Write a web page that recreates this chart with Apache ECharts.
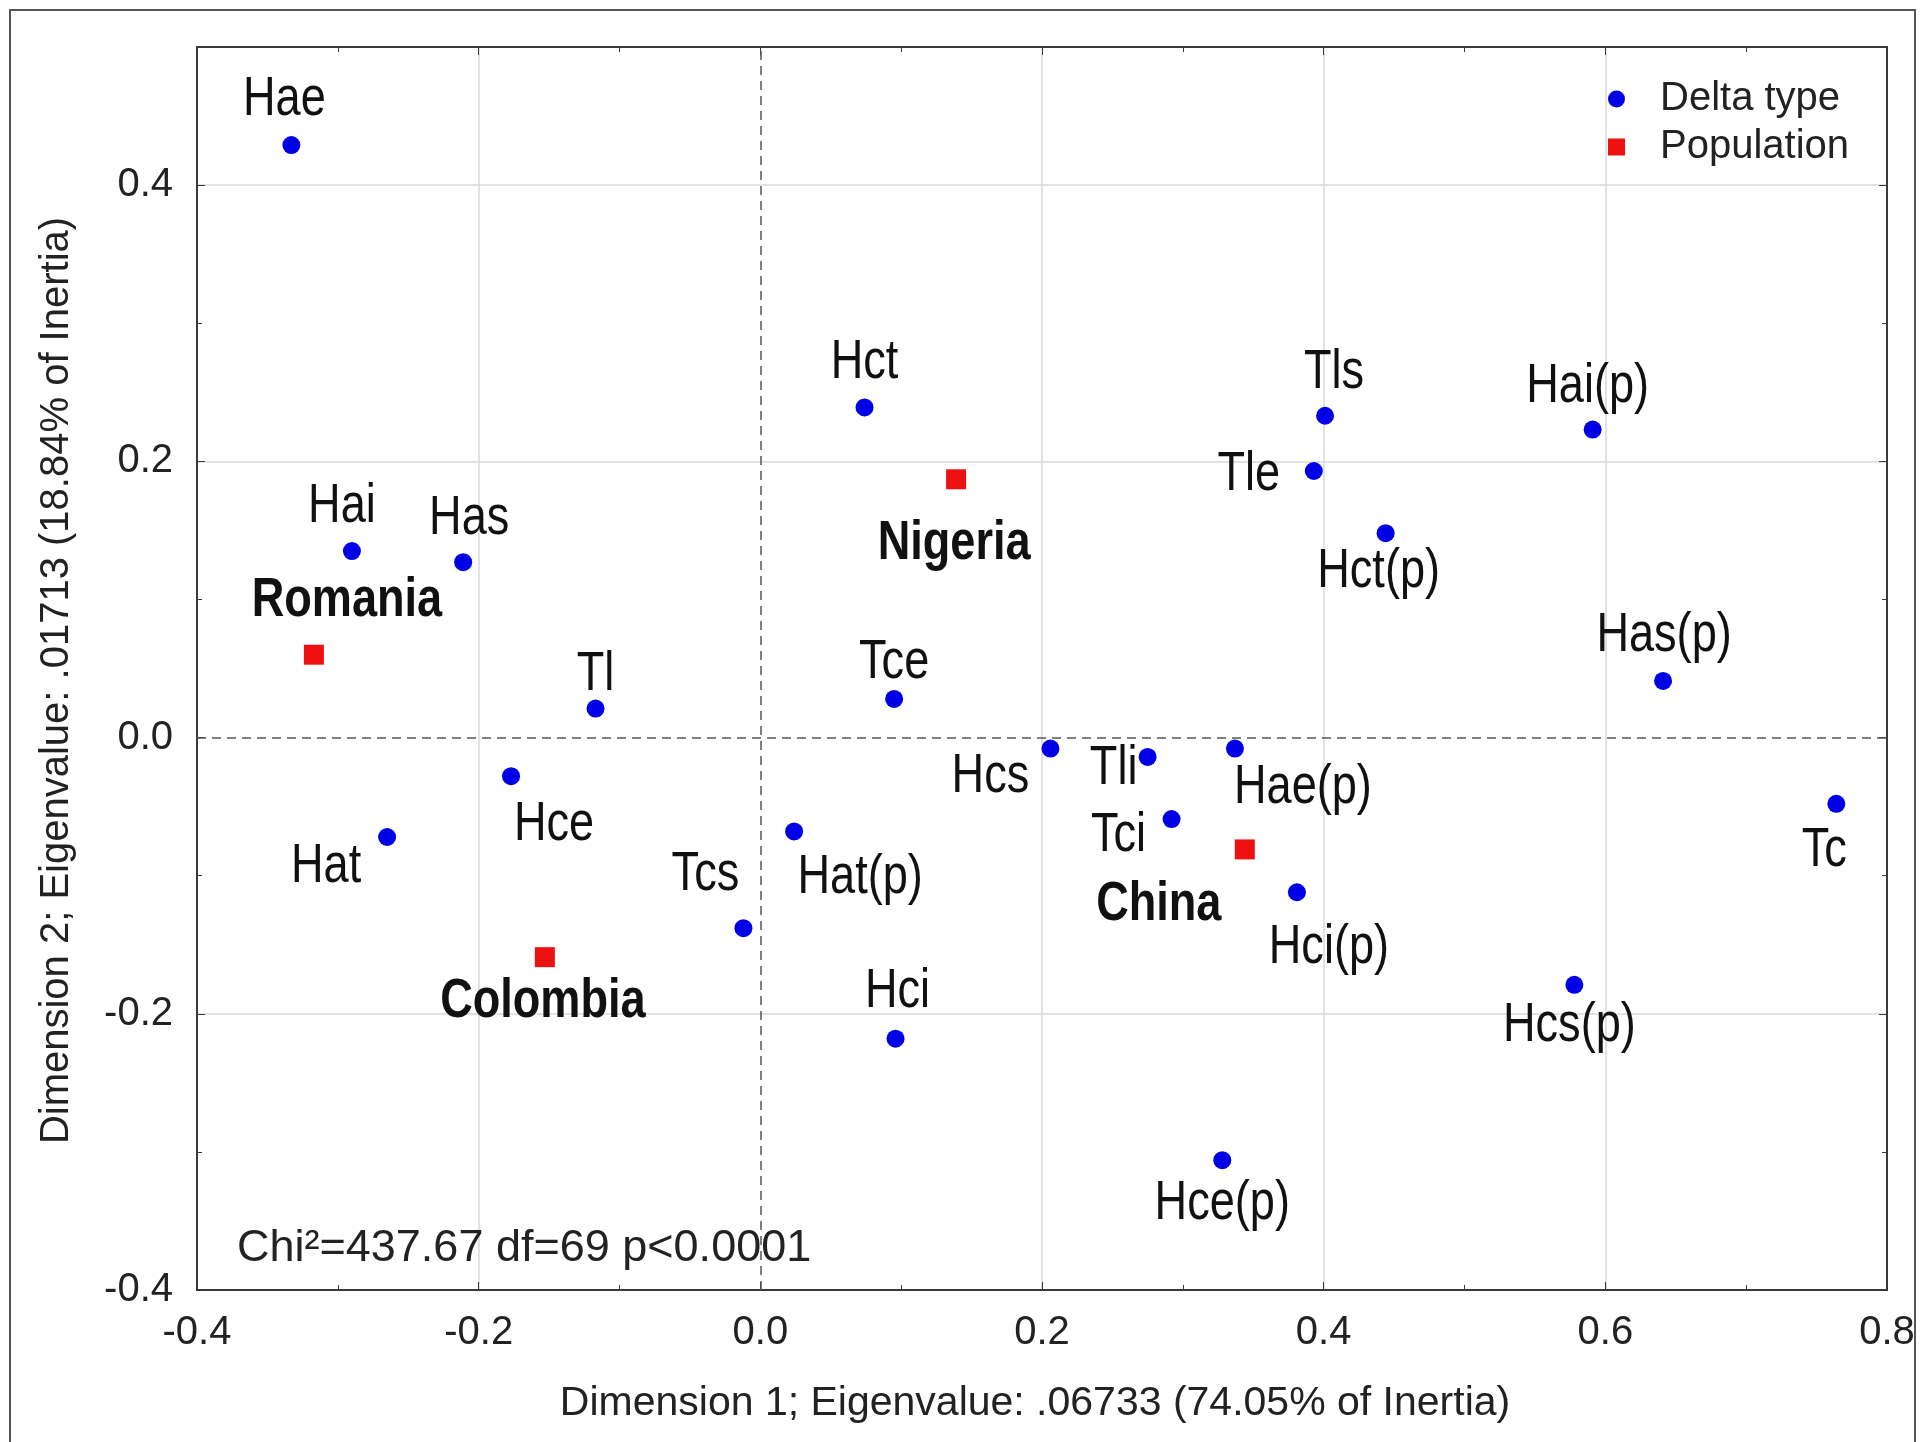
<!DOCTYPE html>
<html>
<head>
<meta charset="utf-8">
<script src="https://cdn.jsdelivr.net/npm/echarts@6/dist/echarts.min.js"></script>
<style>
  html, body { margin: 0; padding: 0; background: #fff; }
  #chart { width: 1925px; height: 1442px; }
</style>
</head>
<body>
<div id="chart"></div>
<script>
// delta types (blue dots)
var deltaNames = ['Hae', 'Hai', 'Has', 'Tl', 'Hce', 'Hat', 'Tcs', 'Hat(p)', 'Hct', 'Tce', 'Hci', 'Hcs',
    'Tli', 'Tci', 'Hae(p)', 'Hci(p)', 'Hce(p)', 'Tls', 'Tle', 'Hct(p)', 'Hai(p)', 'Has(p)', 'Hcs(p)', 'Tc'];
var deltaDim1 = [-0.333, -0.290, -0.211, -0.117, -0.177, -0.265, -0.012, 0.024, 0.074, 0.095, 0.096, 0.206,
    0.275, 0.292, 0.337, 0.381, 0.328, 0.401, 0.393, 0.444, 0.591, 0.641, 0.578, 0.764];
var deltaDim2 = [0.429, 0.135, 0.127, 0.021, -0.028, -0.072, -0.138, -0.068, 0.239, 0.028, -0.218, -0.008,
    -0.014, -0.059, -0.008, -0.112, -0.306, 0.233, 0.193, 0.148, 0.223, 0.041, -0.179, -0.048];

// populations (red squares)
var popNames = ['Romania', 'Colombia', 'Nigeria', 'China'];
var popDim1 = [-0.317, -0.153, 0.139, 0.344];
var popDim2 = [0.060, -0.159, 0.187, -0.081];

var yTicks = [-0.4, -0.2, 0.0, 0.2, 0.4];

// where each label sits relative to its point (px)
var labelOffset = {
    'Hae': [-7, -45], 'Hai': [-10, -44], 'Has': [6, -43], 'Tl': [0, -34], 'Hce': [43, 49],
    'Hat': [-61, 30], 'Tcs': [-38, -53], 'Hat(p)': [66, 46], 'Hct': [0, -45], 'Tce': [0, -36],
    'Hci': [2, -47], 'Hcs': [-60, 28], 'Tli': [-34, 12], 'Tci': [-53, 17], 'Hae(p)': [68, 39],
    'Hci(p)': [32, 56], 'Hce(p)': [0, 44], 'Tls': [9, -43], 'Tle': [-65, 4], 'Hct(p)': [-7, 39],
    'Hai(p)': [-5, -43], 'Has(p)': [1, -45], 'Hcs(p)': [-5, 41], 'Tc': [-12, 47],
    'Romania': [33, -54], 'Colombia': [-2, 45], 'Nigeria': [-2, 65], 'China': [-86, 55]
};

var axisColor = '#3a3a3a';
var gridColors = ['#d9d9d9', '#d9d9d9', 'rgba(0,0,0,0)', '#d9d9d9', '#d9d9d9', '#d9d9d9', '#d9d9d9'];
var fmt = function (v) { return v.toFixed(1); };

function points(xs, ys) {
    return xs.map(function (x, i) { return [x, ys[i]]; });
}

// labels drawn in a condensed face (Arial Narrow look)
function labelSeries(names, xs, ys, bold) {
    return {
        type: 'custom',
        name: bold ? 'popLabels' : 'deltaLabels',
        silent: true,
        z: 5,
        renderItem: function (params, api) {
            var p = api.coord([api.value(0), api.value(1)]);
            var n = names[params.dataIndex];
            var off = labelOffset[n] || [0, -40];
            return {
                type: 'text',
                x: p[0] + off[0],
                y: p[1] + off[1],
                scaleX: 0.82,
                style: {
                    text: n,
                    fontFamily: 'Liberation Sans',
                    fontSize: 55,
                    fontWeight: bold ? 'bold' : 'normal',
                    fill: '#111',
                    align: 'center',
                    verticalAlign: 'middle'
                }
            };
        },
        data: points(xs, ys)
    };
}

var tickStyle = {
    axisLine: { show: true, onZero: false, lineStyle: { color: axisColor, width: 2 } },
    axisTick: { show: true, inside: true, length: 8, lineStyle: { color: axisColor } },
    minorTick: { show: true, splitNumber: 2, length: 5, lineStyle: { color: axisColor } }
};

var chart = echarts.init(document.getElementById('chart'));
chart.setOption({
    backgroundColor: '#fff',
    animation: false,
    textStyle: { fontFamily: 'Liberation Sans' },
    grid: {
        left: 197, right: 38, top: 47, bottom: 152,
        show: true, borderColor: axisColor, borderWidth: 2, backgroundColor: '#fff'
    },
    legend: {
        data: ['Delta type', 'Population'],
        orient: 'vertical',
        left: 1603, top: 74,
        itemWidth: 17, itemHeight: 17, itemGap: 8,
        itemStyle: { opacity: 1 },
        textStyle: { fontSize: 40, color: '#222', fontFamily: 'Liberation Sans', padding: [0, 0, 0, 30] }
    },
    xAxis: [Object.assign({
        type: 'value', min: -0.4, max: 0.8, interval: 0.2, position: 'bottom',
        name: 'Dimension 1; Eigenvalue: .06733 (74.05% of Inertia)',
        nameLocation: 'middle', nameGap: 93,
        nameTextStyle: { fontSize: 41, color: '#222', padding: [0, 14, 0, 0] },
        splitLine: { show: true, lineStyle: { color: gridColors, width: 1.5 } },
        axisLabel: { formatter: fmt, fontSize: 40, color: '#222', margin: 23 }
    }, tickStyle), Object.assign({
        type: 'value', min: -0.4, max: 0.8, interval: 0.2, position: 'top',
        splitLine: { show: false },
        axisLabel: { show: false }
    }, tickStyle)],
    yAxis: [Object.assign({
        type: 'value', min: -0.4, max: 0.5, interval: 0.2, position: 'left',
        name: 'Dimension 2; Eigenvalue: .01713 (18.84% of Inertia)',
        nameLocation: 'middle', nameGap: 120,
        nameTextStyle: { fontSize: 40, color: '#222', padding: [0, 24, 0, 0] },
        splitLine: { show: true, lineStyle: { color: gridColors, width: 1.5 } },
        axisLabel: {
            formatter: function (v) { return yTicks.indexOf(Math.round(v * 10) / 10) >= 0 ? fmt(v) : ''; },
            showMaxLabel: false, fontSize: 40, color: '#222', margin: 24
        }
    }, tickStyle), Object.assign({
        type: 'value', min: -0.4, max: 0.5, interval: 0.2, position: 'right',
        splitLine: { show: false },
        axisLabel: { show: false }
    }, tickStyle)],
    graphic: [{
        type: 'rect', silent: true, z: -1,
        shape: { x: 10, y: 10, width: 1905, height: 1440 },
        style: { fill: 'none', stroke: '#555', lineWidth: 2 }
    }, {
        type: 'text', x: 237, y: 1249, z: 10,
        style: {
            text: 'Chi\u00b2=437.67 df=69 p<0.0001', fontSize: 45, fontFamily: 'Liberation Sans',
            fill: '#222', verticalAlign: 'middle'
        }
    }],
    series: [{
        name: 'Delta type',
        type: 'scatter',
        symbol: 'circle',
        symbolSize: 18,
        itemStyle: { color: '#0000e6', opacity: 1 },
        markLine: {
            silent: true, symbol: 'none', label: { show: false },
            lineStyle: { type: [9, 6], color: '#555', width: 1.5 },
            data: [{ xAxis: 0 }, { yAxis: 0 }]
        },
        data: points(deltaDim1, deltaDim2)
    }, {
        name: 'Population',
        type: 'scatter',
        symbol: 'rect',
        symbolSize: 20,
        itemStyle: { color: '#ee1111', opacity: 1 },
        data: points(popDim1, popDim2)
    },
    labelSeries(deltaNames, deltaDim1, deltaDim2, false),
    labelSeries(popNames, popDim1, popDim2, true)]
});
</script>
</body>
</html>
